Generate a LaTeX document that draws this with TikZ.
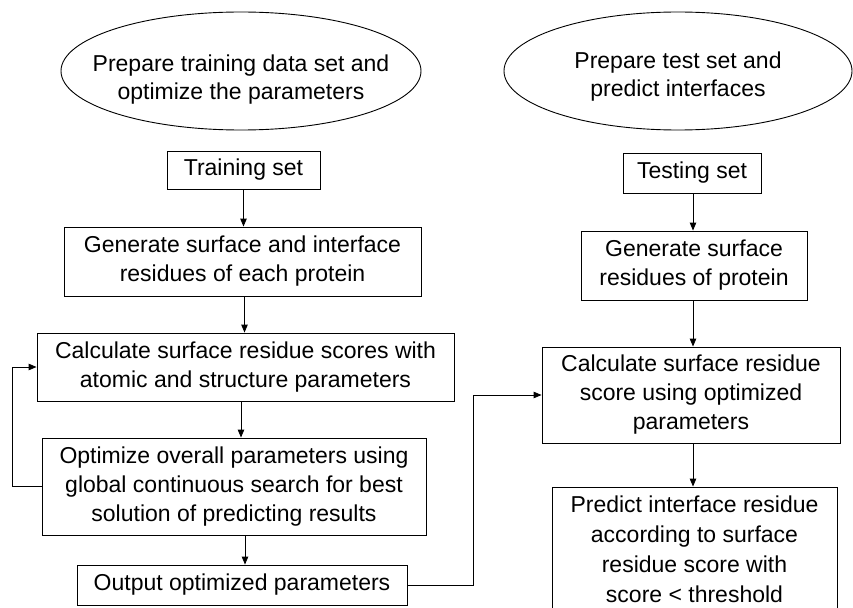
\documentclass[tikz,border=0pt]{standalone}
\usepackage{fontspec}
\setmainfont{Liberation Sans}
\usetikzlibrary{shapes.geometric, arrows.meta, positioning}

\begin{document}
\begin{tikzpicture}[
    x=1pt, y=-1pt,
    font=\fontsize{23}{29}\selectfont,
    box/.style={draw, align=center, line width=0.9pt, inner sep=2pt},
    phase/.style={draw, ellipse, line width=0.9pt, inner sep=0pt},
    arrow/.style={-{Triangle[length=8pt, width=6.5pt]}, line width=0.9pt}
]
    \useasboundingbox (0,0) rectangle (853,607);

    % training branch
    \node (phaseA) [phase, minimum width=360pt, minimum height=118pt] at (241,71) {};
    \node (phaseAtxt) [align=center, font=\fontsize{23}{28}\selectfont] at (241,80) {Prepare training data set and\\ optimize the parameters};
    \node (train) [box, minimum width=153pt, minimum height=38pt] at (243.5,170) {Training set};
    \node (genA) [box, minimum width=357pt, minimum height=69pt] at (242.5,261.5) {Generate surface and interface\\ residues of each protein};
    \node (calcA) [box, minimum width=417pt, minimum height=68pt] at (245.5,367) {Calculate surface residue scores with\\ atomic and structure parameters};
    \node (optim) [box, minimum width=384pt, minimum height=97pt] at (234,486.5) {Optimize overall parameters using\\ global continuous search for best\\ solution of predicting results};
    \node (outp) [box, minimum width=330pt, minimum height=40pt] at (242,585) {Output optimized parameters};

    % testing branch
    \node (phaseB) [phase, minimum width=348pt, minimum height=118pt] at (678,71) {};
    \node (phaseBtxt) [align=center, font=\fontsize{23}{28}\selectfont] at (678,77) {Prepare test set and\\ predict interfaces};
    \node (test) [box, minimum width=138pt, minimum height=40pt] at (692,173) {Testing set};
    \node (genB) [box, minimum width=226pt, minimum height=69pt] at (694,265.5) {Generate surface\\ residues of protein};
    \node (calcB) [box, minimum width=298pt, minimum height=96pt] at (691,395) {Calculate surface residue\\ score using optimized\\ parameters};
    \node (pred) [box, minimum width=285pt, minimum height=124pt, font=\fontsize{23}{30}\selectfont] at (694.5,549) {Predict interface residue\\ according to surface\\ residue score with\\ score < threshold};

    \draw[arrow] (train.south) -- (train.south |- genA.north);
    \draw[arrow] ([xshift=2pt]genA.south) -- ([xshift=2pt]genA.south |- calcA.north);
    \draw[arrow] ([xshift=-4.5pt]calcA.south) -- ([xshift=-4.5pt]calcA.south |- optim.north);
    \draw[arrow] ([xshift=11pt]optim.south) -- ([xshift=11pt]optim.south |- outp.north);
    \draw[arrow] (optim.west) -- ++(-29,0) |- (calcA.west);

    \draw[arrow] ([xshift=1pt]test.south) -- ([xshift=1pt]test.south |- genB.north);
    \draw[arrow] ([xshift=-1pt]genB.south) -- ([xshift=-1pt]genB.south |- calcB.north);
    \draw[arrow] ([xshift=2pt]calcB.south) -- ([xshift=2pt]calcB.south |- pred.north);

    \draw[arrow] (outp.east) -- ++(66,0) |- (calcB.west);
\end{tikzpicture}
\end{document}
